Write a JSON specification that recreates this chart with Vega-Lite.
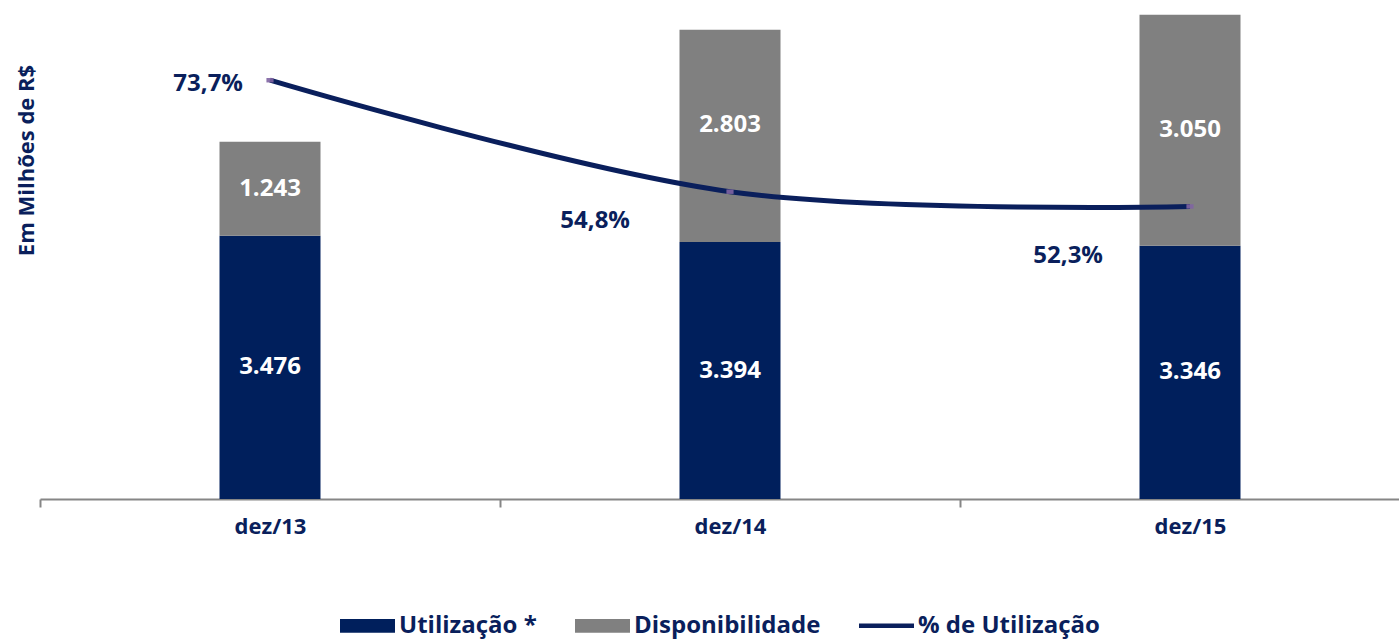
{
  "$schema": "https://vega.github.io/schema/vega-lite/v6.json",
  "width": 1380,
  "height": 499,
  "autosize": {"type": "none"},
  "padding": {"left": 40, "top": 0, "right": 0, "bottom": 140},
  "background": "white",
  "config": {
    "font": "Open Sans",
    "view": {"stroke": null},
    "locale": {"number": {"decimal": ",", "thousands": ".", "grouping": [3], "currency": ["R$ ", ""]}},
    "legend": {
      "orient": "none",
      "legendX": 300,
      "legendY": 598,
      "direction": "horizontal",
      "labelFont": "Open Sans",
      "labelFontSize": 24,
      "labelFontWeight": "bold",
      "labelColor": "#0A1F5C",
      "symbolSize": 3025,
      "symbolStrokeWidth": 0,
      "columnPadding": 38,
      "labelOffset": 4,
      "labelLimit": 400
    }
  },
  "datasets": {
    "bars": [
      {"period": "dez/13", "series": "Utilização *", "value": 3476},
      {"period": "dez/13", "series": "Disponibilidade", "value": 1243},
      {"period": "dez/14", "series": "Utilização *", "value": 3394},
      {"period": "dez/14", "series": "Disponibilidade", "value": 2803},
      {"period": "dez/15", "series": "Utilização *", "value": 3346},
      {"period": "dez/15", "series": "Disponibilidade", "value": 3050}
    ],
    "pct": [
      {"period": "dez/13", "pct": 0.737},
      {"period": "dez/14", "pct": 0.548},
      {"period": "dez/15", "pct": 0.523}
    ]
  },
  "layer": [
    {
      "data": {"name": "bars"},
      "layer": [
        {
          "mark": {"type": "bar", "size": 101},
          "encoding": {
            "x": {
              "field": "period", "type": "nominal", "title": null,
              "scale": {"paddingInner": 0, "paddingOuter": 0},
              "axis": {
                "labelAngle": 0, "labelFont": "Open Sans", "labelFontSize": 22, "labelFontWeight": "bold",
                "labelColor": "#0A1F5C", "labelPadding": 9, "tickBand": "extent", "tickSize": 8,
                "tickColor": "#868686", "tickWidth": 2, "domainColor": "#868686", "domainWidth": 2, "grid": false
              }
            },
            "y": {
              "field": "value", "type": "quantitative", "stack": "zero",
              "scale": {"domain": [0, 6590], "nice": false},
              "axis": {
                "title": "Em Milhões de R$", "labels": false, "ticks": false, "domain": false, "grid": false,
                "titleFont": "Open Sans", "titleFontSize": 22, "titleFontWeight": "bold", "titleColor": "#0A1F5C",
                "titleAngle": 270, "titleX": -14, "titleY": 160, "titleAlign": "center", "titleBaseline": "middle"
              }
            },
            "color": {
              "field": "series", "type": "nominal",
              "scale": {"domain": ["Utilização *", "Disponibilidade", "% de Utilização"], "range": ["#001F5C", "#808080", "#0A1F5C"]},
              "legend": {
                "title": null,
                "encode": {
                  "symbols": {
                    "update": {
                      "shape": {"signal": "datum.label == '% de Utilização' ? 'M-1,-0.085H1V0.085H-1Z' : 'M-1,-0.25H1V0.25H-1Z'"},
                      "fill": {"scale": "color", "field": "value"},
                      "strokeWidth": {"value": 0}
                    }
                  }
                }
              }
            },
            "order": {"field": "series", "sort": "descending"}
          }
        },
        {
          "transform": [
            {"stack": "value", "groupby": ["period"], "sort": [{"field": "series", "order": "descending"}], "as": ["y0", "y1"]},
            {"fold": ["y0", "y1"], "as": ["k", "pos"]},
            {"filter": "!(datum.period == 'dez/14' && datum.series == 'Disponibilidade')"}
          ],
          "mark": {"type": "text", "color": "white", "fontSize": 24, "fontWeight": "bold", "align": "center", "baseline": "middle"},
          "encoding": {
            "x": {"field": "period", "type": "nominal"},
            "y": {
              "aggregate": "mean", "field": "pos", "type": "quantitative", "stack": null,
              "axis": {
                "title": "Em Milhões de R$", "labels": false, "ticks": false, "domain": false, "grid": false,
                "titleFont": "Open Sans", "titleFontSize": 22, "titleFontWeight": "bold", "titleColor": "#0A1F5C",
                "titleAngle": 270, "titleX": -14, "titleY": 160, "titleAlign": "center", "titleBaseline": "middle"
              }
            },
            "text": {"field": "value", "type": "quantitative", "format": ",.0f"}
          }
        },
        {
          "transform": [
            {"stack": "value", "groupby": ["period"], "sort": [{"field": "series", "order": "descending"}], "as": ["y0", "y1"]},
            {"fold": ["y0", "y1"], "as": ["k", "pos"]},
            {"filter": "datum.period == 'dez/14' && datum.series == 'Disponibilidade'"}
          ],
          "mark": {"type": "text", "color": "white", "fontSize": 24, "fontWeight": "bold", "align": "center", "baseline": "middle", "dy": -11},
          "encoding": {
            "x": {"field": "period", "type": "nominal"},
            "y": {
              "aggregate": "mean", "field": "pos", "type": "quantitative", "stack": null,
              "axis": {
                "title": "Em Milhões de R$", "labels": false, "ticks": false, "domain": false, "grid": false,
                "titleFont": "Open Sans", "titleFontSize": 22, "titleFontWeight": "bold", "titleColor": "#0A1F5C",
                "titleAngle": 270, "titleX": -14, "titleY": 160, "titleAlign": "center", "titleBaseline": "middle"
              }
            },
            "text": {"field": "value", "type": "quantitative", "format": ",.0f"}
          }
        }
      ]
    },
    {
      "data": {"name": "pct"},
      "encoding": {
        "x": {"field": "period", "type": "nominal"},
        "y": {"field": "pct", "type": "quantitative", "scale": {"domain": [0.027, 0.873], "nice": false, "zero": false}, "axis": null}
      },
      "layer": [
        {
          "mark": {"type": "line", "interpolate": "cardinal", "tension": 0, "strokeWidth": 5},
          "encoding": {"color": {"datum": "% de Utilização"}}
        },
        {
          "mark": {"type": "point", "shape": "M-1.6,-1H1.6V1H-1.6Z", "size": 20, "filled": true, "color": "#8064A2", "opacity": 0.9},
          "encoding": {}
        },
        {
          "transform": [{"filter": "datum.period == 'dez/13'"}],
          "mark": {"type": "text", "align": "right", "baseline": "middle", "dx": -27, "dy": 4, "fontSize": 24, "fontWeight": "bold", "color": "#0A1F5C"},
          "encoding": {"text": {"field": "pct", "type": "quantitative", "format": ".1%"}}
        },
        {
          "transform": [{"filter": "datum.period == 'dez/14'"}],
          "mark": {"type": "text", "align": "right", "baseline": "middle", "dx": -100, "dy": 29, "fontSize": 24, "fontWeight": "bold", "color": "#0A1F5C"},
          "encoding": {"text": {"field": "pct", "type": "quantitative", "format": ".1%"}}
        },
        {
          "transform": [{"filter": "datum.period == 'dez/15'"}],
          "mark": {"type": "text", "align": "right", "baseline": "middle", "dx": -87, "dy": 50, "fontSize": 24, "fontWeight": "bold", "color": "#0A1F5C"},
          "encoding": {"text": {"field": "pct", "type": "quantitative", "format": ".1%"}}
        }
      ]
    }
  ],
  "resolve": {"scale": {"y": "independent"}}
}
